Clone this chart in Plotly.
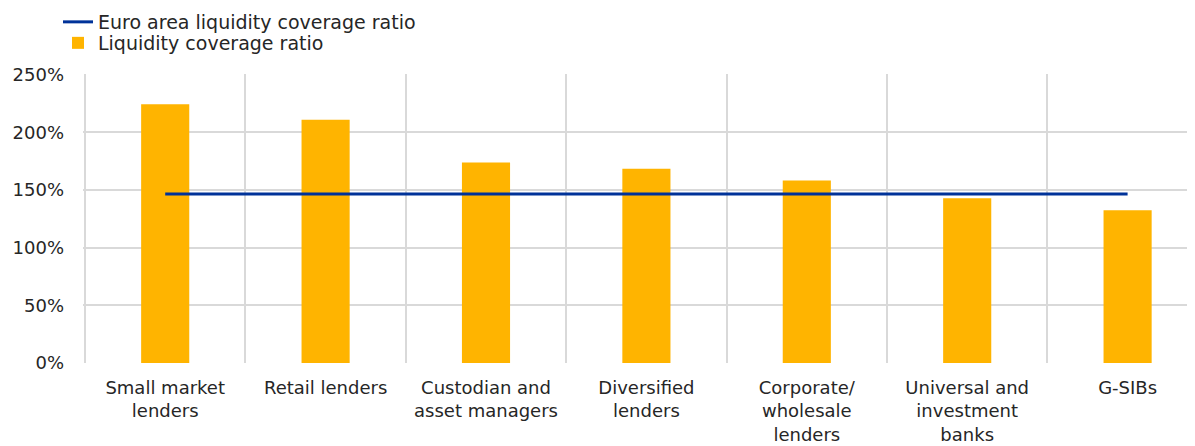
import plotly.graph_objects as go

categories = [
    "Small market<br>lenders",
    "Retail lenders",
    "Custodian and<br>asset managers",
    "Diversified<br>lenders",
    "Corporate/<br>wholesale<br>lenders",
    "Universal and<br>investment<br>banks",
    "G-SIBs",
]
lcr_values = [224.3, 210.8, 173.8, 168.3, 158.2, 142.9, 132.5]
euro_area_lcr = [146.5] * len(categories)
y_ticks = [0, 50, 100, 150, 200, 250]

FONT = "DejaVu Sans"
TXT = "#262626"

# the page body adds an 8px offset; size the figure so it ends at the window edge
OFF = 8
W, H = 1195 - OFF, 446 - OFF
ML, MT, MB, MR = 75, 74 - OFF, 83, 0
CAT_PX = 160.4
x_start = -0.5 - 2 / CAT_PX
x_end = x_start + (W - ML - MR) / CAT_PX

fig = go.Figure()
fig.add_trace(go.Bar(
    x=categories, y=lcr_values, name="Liquidity coverage ratio",
    marker=dict(color="#FFB400", line=dict(width=0)), width=0.3,
    legend="legend2",
))
fig.add_trace(go.Scatter(
    x=categories, y=euro_area_lcr, name="Euro area liquidity coverage ratio",
    mode="lines", line=dict(color="#003299", width=3),
    legend="legend",
))

pw, ph = W - ML - MR, H - MT - MB
def px_x(p):
    return (p - OFF - ML) / pw
def px_y(p):
    return (H - MB - (p - OFF)) / ph

fig.update_layout(
    width=W, height=H,
    margin=dict(l=ML, r=MR, t=MT, b=MB, autoexpand=False),
    paper_bgcolor="white", plot_bgcolor="white",
    font=dict(family=FONT, color=TXT, size=18),
    legend=dict(x=px_x(58), y=px_y(22), xanchor="left", yanchor="middle",
                font=dict(size=19, color=TXT), bgcolor="rgba(0,0,0,0)"),
    legend2=dict(x=px_x(58), y=px_y(43), xanchor="left", yanchor="middle",
                 font=dict(size=19, color=TXT), bgcolor="rgba(0,0,0,0)"),
    showlegend=True,
)

fig.update_xaxes(
    type="category", range=[x_start, x_end], tickson="boundaries",
    showgrid=True, gridcolor="#D9D9D9", gridwidth=1.5,
    showline=False, ticks="", ticklabelstandoff=12,
    tickfont=dict(size=18, color=TXT),
)
fig.update_yaxes(
    range=[0, 250.5], tickvals=y_ticks, ticktext=[f"{v}%" for v in y_ticks],
    showgrid=True, gridcolor="#D9D9D9", gridwidth=1.5,
    zeroline=False, showline=False, ticks="", ticklabelstandoff=18,
    tickfont=dict(size=18, color=TXT),
)

fig.write_html("out.html")
